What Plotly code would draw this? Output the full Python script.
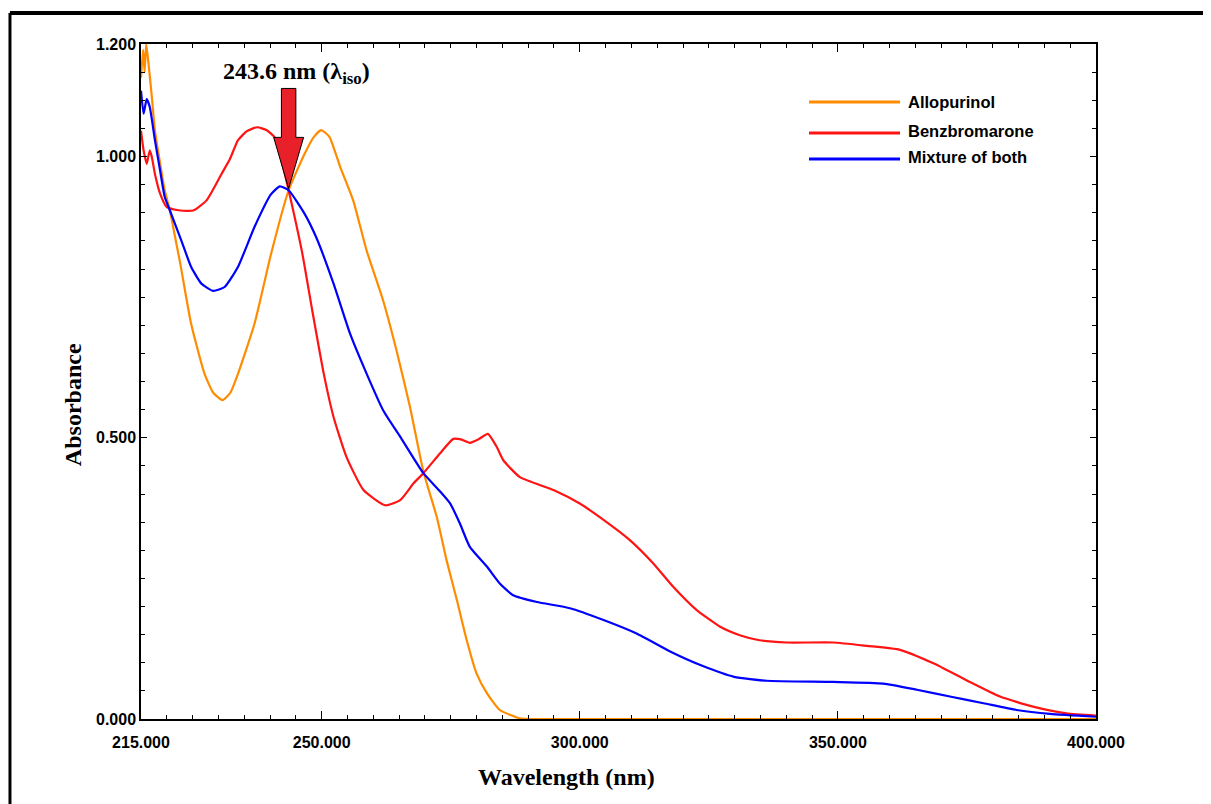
import plotly.graph_objects as go

# ---------------- data ----------------
wl_allo = [215.0, 215.4, 215.7, 216.0, 216.4, 217.1, 217.7, 218.7, 219.6, 220.6, 221.6, 222.6,
           224.7, 227.3, 229.0, 230.8, 232.3, 233.8, 237.0, 240.2, 243.6, 246.7, 248.5, 249.9,
           251.5, 253.6, 256.1, 258.7, 261.9, 264.5, 267.1, 269.7, 272.3, 274.2, 276.2, 278.1,
           280.0, 282.0, 284.5, 288.4, 290.0, 300.0, 350.0, 400.0]
abs_allo = [1.14, 1.19, 1.15, 1.20, 1.17, 1.106, 1.046, 0.988, 0.94, 0.904, 0.857, 0.81,
            0.703, 0.614, 0.58, 0.567, 0.58, 0.614, 0.703, 0.827, 0.94, 1.005, 1.035, 1.047,
            1.035, 0.981, 0.922, 0.833, 0.744, 0.655, 0.555, 0.44, 0.359, 0.282, 0.211, 0.140,
            0.081, 0.046, 0.016, 0.001, 0.0, 0.0, 0.0, 0.0]

wl_benz = [215.0, 215.5, 216.1, 216.7, 217.1, 217.7, 218.7, 220.0, 222.6, 225.1, 227.7, 230.6,
           232.2, 233.8, 235.5, 237.5, 239.3, 240.9, 242.3, 243.6, 246.2, 248.2, 250.4, 252.3,
           254.8, 258.1, 262.3, 265.2, 267.8, 269.7, 272.9, 275.5, 277.0, 278.7, 280.5, 282.2,
           283.9, 285.2, 288.4, 294.9, 300.0, 304.6, 309.7, 314.2, 318.1, 322.6, 327.2, 331.0,
           334.8, 340.1, 349.1, 355.6, 362.0, 368.5, 374.9, 381.4, 387.8, 394.3, 400.0]
abs_benz = [1.046, 1.011, 0.987, 1.011, 0.999, 0.969, 0.934, 0.910, 0.904, 0.904, 0.922, 0.969,
            0.995, 1.029, 1.045, 1.052, 1.047, 1.034, 0.99, 0.94, 0.83, 0.725, 0.614, 0.537,
            0.466, 0.407, 0.380, 0.389, 0.419, 0.437, 0.472, 0.498, 0.497, 0.491, 0.498, 0.507,
            0.484, 0.460, 0.430, 0.407, 0.383, 0.354, 0.318, 0.277, 0.235, 0.194, 0.164, 0.149,
            0.140, 0.136, 0.136, 0.130, 0.123, 0.099, 0.069, 0.040, 0.022, 0.010, 0.006]

wl_mix = [215.0, 215.5, 216.1, 216.7, 217.7, 218.7, 219.6, 220.6, 222.8, 224.7, 226.7, 229.0,
          231.2, 233.8, 237.0, 240.2, 241.9, 243.6, 246.7, 249.0, 252.3, 255.5, 258.7, 261.9,
          265.2, 269.7, 272.9, 274.9, 276.8, 278.7, 282.0, 284.5, 287.1, 291.7, 298.1, 304.6,
          311.0, 317.5, 323.6, 329.9, 336.2, 349.1, 358.8, 365.3, 371.7, 378.2, 384.6, 391.1, 400.0]
abs_mix = [1.117, 1.076, 1.102, 1.088, 1.029, 0.975, 0.928, 0.904, 0.851, 0.804, 0.774, 0.761,
           0.768, 0.804, 0.875, 0.933, 0.947, 0.94, 0.898, 0.855, 0.774, 0.685, 0.614, 0.549,
           0.502, 0.437, 0.405, 0.383, 0.347, 0.306, 0.271, 0.241, 0.220, 0.208, 0.197, 0.176,
           0.152, 0.120, 0.095, 0.075, 0.068, 0.066, 0.063, 0.052, 0.040, 0.028, 0.016, 0.009, 0.004]

series_names = ["Allopurinol", "Benzbromarone", "Mixture of both"]
x_tickvals = [215, 250, 300, 350, 400]
x_ticktext = ["215.000", "250.000", "300.000", "350.000", "400.000"]
y_tickvals = [0.0, 0.5, 1.0, 1.2]
y_ticktext = ["0.000", "0.500", "1.000", "1.200"]
x_title = "Wavelength (nm)"
y_title = "Absorbance"

ISO_NM = 243.6
ISO_ABS = 0.943
iso_label = "<b>243.6 nm (λ<sub>iso</sub>)</b>"

# ---------------- styles ----------------
colors = ["#FF8C00", "#FF1414", "#0000FF"]
SANS = "Liberation Sans Narrow, Arial Narrow, Liberation Sans, Arial, sans-serif"
SERIF = "Liberation Serif, Times New Roman, serif"

fig = go.Figure()
for wl, ab, name, col in zip([wl_allo, wl_benz, wl_mix], [abs_allo, abs_benz, abs_mix],
                             series_names, colors):
    fig.add_trace(go.Scatter(x=wl, y=ab, mode="lines", name=name,
                             line=dict(color=col, width=2.2, shape="spline", smoothing=0.5),
                             showlegend=False))

# block arrow pointing at isosbestic point
sw, hw, hb, top = 1.4, 2.9, 0.091, 0.178
pts = [(ISO_NM, ISO_ABS), (ISO_NM - hw, ISO_ABS + hb), (ISO_NM - sw, ISO_ABS + hb),
       (ISO_NM - sw, ISO_ABS + top), (ISO_NM + sw, ISO_ABS + top), (ISO_NM + sw, ISO_ABS + hb),
       (ISO_NM + hw, ISO_ABS + hb)]
path = "M " + " L ".join(f"{px},{py}" for px, py in pts) + " Z"
fig.add_shape(type="path", path=path, xref="x", yref="y",
              fillcolor="#E8202A", line=dict(color="black", width=1))

fig.add_annotation(x=ISO_NM, y=1.149, xref="x", yref="y", text=iso_label, showarrow=False,
                   xshift=8, font=dict(family=SERIF, size=24, color="black"))

# manual legend (long line samples)
leg_y = [0.9141, 0.8681, 0.8296]
leg_ty = [0.9141, 0.8704, 0.8326]
for name, col, ly, ty in zip(series_names, colors, leg_y, leg_ty):
    fig.add_shape(type="line", xref="paper", yref="paper", x0=0.6995, x1=0.7948, y0=ly, y1=ly,
                  line=dict(color=col, width=3))
    fig.add_annotation(xref="paper", yref="paper", x=0.801, y=ty, text=f"<b>{name}</b>",
                       showarrow=False, xanchor="left", yanchor="middle",
                       font=dict(family=SANS, size=16.5, color="black"))

# axis titles (placed off-centre as in the original)
fig.add_annotation(xref="paper", yref="paper", x=0.446, y=-0.086, text=f"<b>{x_title}</b>",
                   showarrow=False, xanchor="center", yanchor="middle",
                   font=dict(family=SERIF, size=24, color="black"))
fig.add_annotation(xref="paper", yref="paper", x=-0.0712, y=0.465, text=f"<b>{y_title}</b>",
                   showarrow=False, textangle=-90, xanchor="center", yanchor="middle",
                   font=dict(family=SERIF, size=24, color="black"))

# outer frame of the figure image
fig.add_shape(type="line", xref="paper", yref="paper", x0=-0.1372, x1=1.13, y0=1.0459, y1=1.0459,
              line=dict(color="black", width=4))
fig.add_shape(type="line", xref="paper", yref="paper", x0=-0.1372, x1=-0.1372, y0=1.0459, y1=-0.2,
              line=dict(color="black", width=3))

fig.update_xaxes(range=[215, 400], tickmode="array", tickvals=x_tickvals, ticktext=x_ticktext,
                 ticks="inside", ticklen=8, tickwidth=1.2, tickcolor="black",
                 minor=dict(dtick=5, tick0=215, ticks="inside", ticklen=4, tickwidth=1.2,
                            tickcolor="black"),
                 showline=True, linecolor="black", linewidth=1.5, mirror="allticks",
                 showgrid=False, zeroline=False, ticklabelstandoff=8,
                 tickfont=dict(family=SANS, size=16, color="black", weight="bold"))
fig.update_yaxes(range=[0, 1.2], tickmode="array", tickvals=y_tickvals, ticktext=y_ticktext,
                 ticks="inside", ticklen=6, tickwidth=1.2, tickcolor="black",
                 minor=dict(dtick=0.05, tick0=0, ticks="inside", ticklen=4, tickwidth=1.2,
                            tickcolor="black"),
                 showline=True, linecolor="black", linewidth=1.5, mirror="allticks",
                 showgrid=False, zeroline=False,
                 tickfont=dict(family=SANS, size=16, color="black", weight="bold"))

fig.update_layout(width=1203, height=796, plot_bgcolor="white", paper_bgcolor="white",
                  margin=dict(l=133, r=115, t=36, b=85), showlegend=False)

fig.write_html("out.html")
